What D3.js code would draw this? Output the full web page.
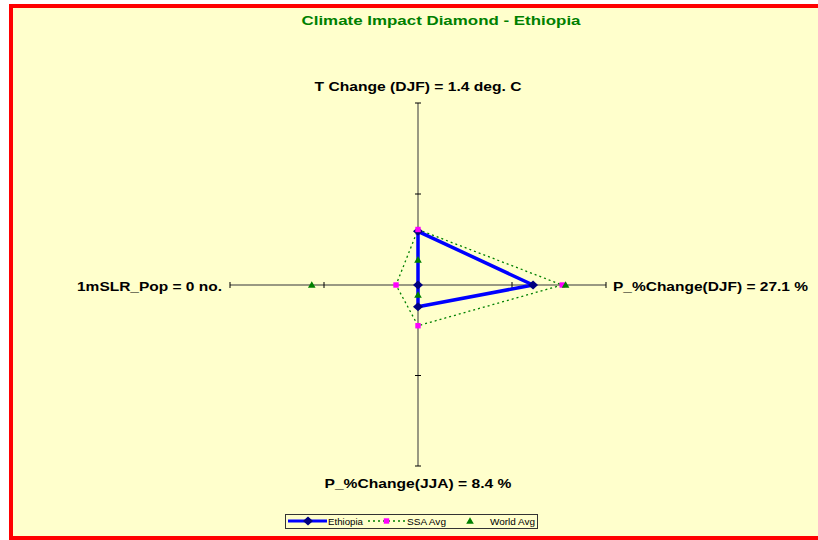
<!DOCTYPE html>
<html><head><meta charset="utf-8">
<script src="https://cdn.jsdelivr.net/npm/d3@7"></script>
<style>html,body{margin:0;padding:0;background:#fff;}svg{display:block;}</style>
</head><body>
<script>
// ---- data ----
const title = "Climate Impact Diamond - Ethiopia";
const axisNames = ["T Change (DJF)", "P_%Change(DJF)", "P_%Change(JJA)", "1mSLR_Pop"];
const axisLabels = ["T Change (DJF) = 1.4 deg. C", "P_%Change(DJF) = 27.1 %", "P_%Change(JJA) = 8.4 %", "1mSLR_Pop = 0 no."];
// normalised scores (share of each half-axis), order: up, right, down, left
const ethiopia = [0.295, 0.612, 0.12, 0.0];
const ssaAvg   = [0.305, 0.767, 0.225, 0.117];
const worldAvg = [0.138, 0.785, 0.055, 0.565];
const tickValues = [0.5, 1];
const seriesNames = ["Ethiopia", "SSA Avg", "World Avg"];

// ---- layout ----
const W = 818, H = 540, cx = 418, cy = 285;
const svg = d3.select("body").append("svg").attr("width", W).attr("height", H);
svg.append("rect").attr("x",0).attr("y",0).attr("width",W).attr("height",H).attr("fill","#fff");
svg.append("rect").attr("x",11).attr("y",6).attr("width",W+20).attr("height",H-6-2)
  .attr("fill","#FFFFCC").attr("stroke","#FF0000").attr("stroke-width",4);

const sUp = d3.scaleLinear().domain([0,1]).range([cy, 103]);
const sRight = d3.scaleLinear().domain([0,1]).range([cx, 606]);
const sDown = d3.scaleLinear().domain([0,1]).range([cy, 466]);
const sLeft = d3.scaleLinear().domain([0,1]).range([cx, 230]);

function pt(i, v){
  if(i===0) return [cx, sUp(v)];
  if(i===1) return [sRight(v), cy];
  if(i===2) return [cx, sDown(v)];
  return [sLeft(v), cy];
}

// axes
const axG = svg.append("g");
axG.append("line").attr("x1",cx).attr("x2",cx).attr("y1",sUp(1)).attr("y2",sDown(1))
  .attr("stroke","#77776a").attr("stroke-width",1.5);
axG.append("line").attr("x1",sLeft(1)).attr("x2",sRight(1)).attr("y1",cy).attr("y2",cy)
  .attr("stroke","#77776a").attr("stroke-width",1.5);
tickValues.forEach(t=>{
  [sUp(t), sDown(t)].forEach(y=>axG.append("line").attr("x1",cx-3).attr("x2",cx+3).attr("y1",y).attr("y2",y).attr("stroke","#000").attr("stroke-width",1));
  [sLeft(t), sRight(t)].forEach(x=>axG.append("line").attr("x1",x).attr("x2",x).attr("y1",cy-3).attr("y2",cy+3).attr("stroke","#000").attr("stroke-width",1));
});

// axis labels
const font = "'Liberation Sans', Arial, sans-serif";
function label(txt, x, y, anchor, len){
  svg.append("text").attr("x",x).attr("y",y).attr("text-anchor",anchor)
    .attr("font-family",font).attr("font-weight","bold").attr("font-size",13.5)
    .attr("fill","#000").attr("textLength",len).attr("lengthAdjust","spacingAndGlyphs").text(txt);
}
label(axisLabels[0], 418, 91, "middle", 207);
label(axisLabels[1], 613, 291, "start", 195);
label(axisLabels[2], 418, 488, "middle", 187);
label(axisLabels[3], 222, 291, "end", 145);

svg.append("text").attr("x",441).attr("y",25).attr("text-anchor","middle")
  .attr("font-family",font).attr("font-weight","bold").attr("font-size",13.5)
  .attr("fill","#008000").attr("textLength",279).attr("lengthAdjust","spacingAndGlyphs").text(title);

// series
const line = d3.line();
const ssaPts = ssaAvg.map((v,i)=>pt(i,v));
svg.append("path").attr("d", line([...ssaPts, ssaPts[0]])).attr("fill","none")
  .attr("stroke","#008000").attr("stroke-width",1.3).attr("stroke-dasharray","2,3");
const ethPts = ethiopia.map((v,i)=>pt(i,v));
svg.append("path").attr("d", line([...ethPts, ethPts[0]])).attr("fill","none")
  .attr("stroke","#0000FF").attr("stroke-width",3.5).attr("stroke-linejoin","round");

function diamond(g, x, y){
  g.append("path").attr("d",`M${x},${y-4.5}L${x+5},${y}L${x},${y+4.5}L${x-5},${y}Z`).attr("fill","#000080");
}
function square(g, x, y){
  g.append("rect").attr("x",x-2.7).attr("y",y-2.7).attr("width",5.4).attr("height",5.4).attr("fill","#FF00FF");
}
function tri(g, x, y){
  g.append("path").attr("d",`M${x},${y-3.8}L${x+3.8},${y+2.8}L${x-3.8},${y+2.8}Z`).attr("fill","#008000");
}
const mk = svg.append("g");
ethPts.forEach(p=>diamond(mk,p[0],p[1]));
ssaPts.forEach(p=>square(mk,p[0],p[1]));
worldAvg.map((v,i)=>pt(i,v)).forEach(p=>tri(mk,p[0],p[1]));

// legend
const lg = svg.append("g");
lg.append("rect").attr("x",285.5).attr("y",514.5).attr("width",252).attr("height",14)
  .attr("fill","#FFFFCC").attr("stroke","#333").attr("stroke-width",1);
const ly = 521;
lg.append("line").attr("x1",288).attr("x2",327).attr("y1",ly).attr("y2",ly).attr("stroke","#0000FF").attr("stroke-width",3);
diamond(lg,308,ly);
lg.append("line").attr("x1",368).attr("x2",405).attr("y1",ly).attr("y2",ly).attr("stroke","#008000").attr("stroke-width",1.3).attr("stroke-dasharray","2,3");
square(lg,386.5,ly);
tri(lg,470,ly);
const lt = [[seriesNames[0],328,35],[seriesNames[1],407,39],[seriesNames[2],490,45]];
lt.forEach(d=>lg.append("text").attr("x",d[1]).attr("y",524.5).attr("font-family",font)
  .attr("font-size",9.5).attr("fill","#000").attr("textLength",d[2]).attr("lengthAdjust","spacingAndGlyphs").text(d[0]));
</script>
</body></html>
